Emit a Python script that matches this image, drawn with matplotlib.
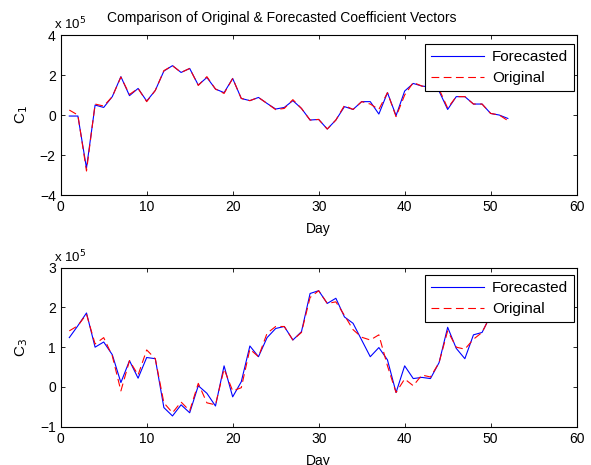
import numpy as np
import matplotlib
matplotlib.use("Agg")
import matplotlib.pyplot as plt

plt.rcParams['font.family'] = ['Liberation Sans', 'DejaVu Sans']

days = np.arange(1, 53)

# C1 coefficient (x 1e5)
c1_forecast = [-0.05, -0.05, -2.65, 0.50, 0.38, 0.92, 1.92, 0.97, 1.33, 0.70,
               1.23, 2.20, 2.47, 2.13, 2.33, 1.50, 1.88, 1.30, 1.12, 1.83,
               0.83, 0.72, 0.88, 0.58, 0.30, 0.38, 0.72, 0.33, -0.25, -0.22,
               -0.70, -0.25, 0.42, 0.28, 0.67, 0.67, 0.05, 1.12, -0.03, 1.20,
               1.58, 1.45, 1.40, 1.20, 0.28, 0.92, 0.92, 0.55, 0.55, 0.08,
               0.00, -0.17]
c1_original = [0.25, 0.00, -2.80, 0.55, 0.45, 0.92, 1.90, 1.03, 1.33, 0.67,
               1.23, 2.22, 2.47, 2.13, 2.33, 1.48, 1.92, 1.30, 1.08, 1.83,
               0.83, 0.72, 0.88, 0.58, 0.27, 0.33, 0.77, 0.33, -0.25, -0.22,
               -0.70, -0.25, 0.48, 0.28, 0.67, 0.55, 0.28, 1.12, -0.08, 1.00,
               1.63, 1.45, 1.35, 1.30, 0.35, 0.92, 0.92, 0.55, 0.55, 0.08,
               0.00, -0.28]

# C3 coefficient (x 1e5)
c3_forecast = [1.24, 1.54, 1.86, 1.00, 1.13, 0.81, 0.11, 0.66, 0.22, 0.74,
               0.71, -0.52, -0.73, -0.45, -0.65, 0.03, -0.16, -0.48, 0.53, -0.25,
               0.13, 1.03, 0.76, 1.24, 1.47, 1.52, 1.18, 1.39, 2.35, 2.42,
               2.10, 2.23, 1.76, 1.60, 1.18, 0.76, 0.99, 0.68, -0.14, 0.53,
               0.21, 0.24, 0.21, 0.61, 1.50, 0.97, 0.71, 1.31, 1.37, 1.80,
               2.00, 2.10]
c3_original = [1.41, 1.54, 1.83, 1.08, 1.24, 0.78, -0.10, 0.66, 0.30, 0.93,
               0.71, -0.40, -0.65, -0.38, -0.60, 0.09, -0.40, -0.45, 0.45, -0.10,
               -0.02, 0.95, 0.76, 1.35, 1.52, 1.52, 1.18, 1.37, 2.25, 2.42,
               2.10, 2.14, 1.80, 1.44, 1.25, 1.18, 1.31, 0.53, -0.14, 0.20,
               0.03, 0.30, 0.25, 0.61, 1.41, 1.00, 0.95, 1.20, 1.37, 1.80,
               2.00, 2.10]

fig = plt.figure(figsize=(5.91, 4.65), dpi=100)
ax1 = fig.add_axes([0.1027, 0.5806, 0.873, 0.344])
ax2 = fig.add_axes([0.1027, 0.0824, 0.873, 0.342])

panels = [(ax1, c1_forecast, c1_original, 'C$_1$', (-4, 4), [-4, -2, 0, 2, 4], 0.944),
          (ax2, c3_forecast, c3_original, 'C$_3$', (-1, 3), [-1, 0, 1, 2, 3], 0.954)]

for ax, fc, orig, lab, ylim, yt, legtop in panels:
    ax.plot(days, fc, color='blue', lw=0.8, label='Forecasted')
    ax.plot(days, orig, color='red', lw=0.8, dashes=(7, 4), label='Original')
    ax.set_xlim(0, 60)
    ax.set_ylim(*ylim)
    ax.set_yticks(yt)
    ax.set_xticks(range(0, 61, 10))
    ax.tick_params(direction='in', top=True, right=True, labelsize=10, length=3, width=0.6)
    for s in ax.spines.values():
        s.set_linewidth(0.8)
    ax.set_xlabel('Day', fontsize=10, labelpad=6)
    ax.set_ylabel(lab, fontsize=11, labelpad=7)
    ax.text(-0.013, 1.015, 'x 10$^5$', transform=ax.transAxes, fontsize=9.5,
            ha='left', va='bottom')
    leg = ax.legend(loc='upper right', bbox_to_anchor=(0.9953, legtop),
                    fontsize=11, frameon=True, fancybox=False,
                    framealpha=1, edgecolor='black', handlelength=3.5,
                    borderaxespad=0, borderpad=0.4, labelspacing=0.45,
                    handletextpad=0.5)
    leg.get_frame().set_linewidth(0.8)

ax1.text(0.429, 1.06, 'Comparison of Original & Forecasted Coefficient Vectors',
         transform=ax1.transAxes, fontsize=10, ha='center', va='bottom')

fig.savefig('out.png', dpi=100)
